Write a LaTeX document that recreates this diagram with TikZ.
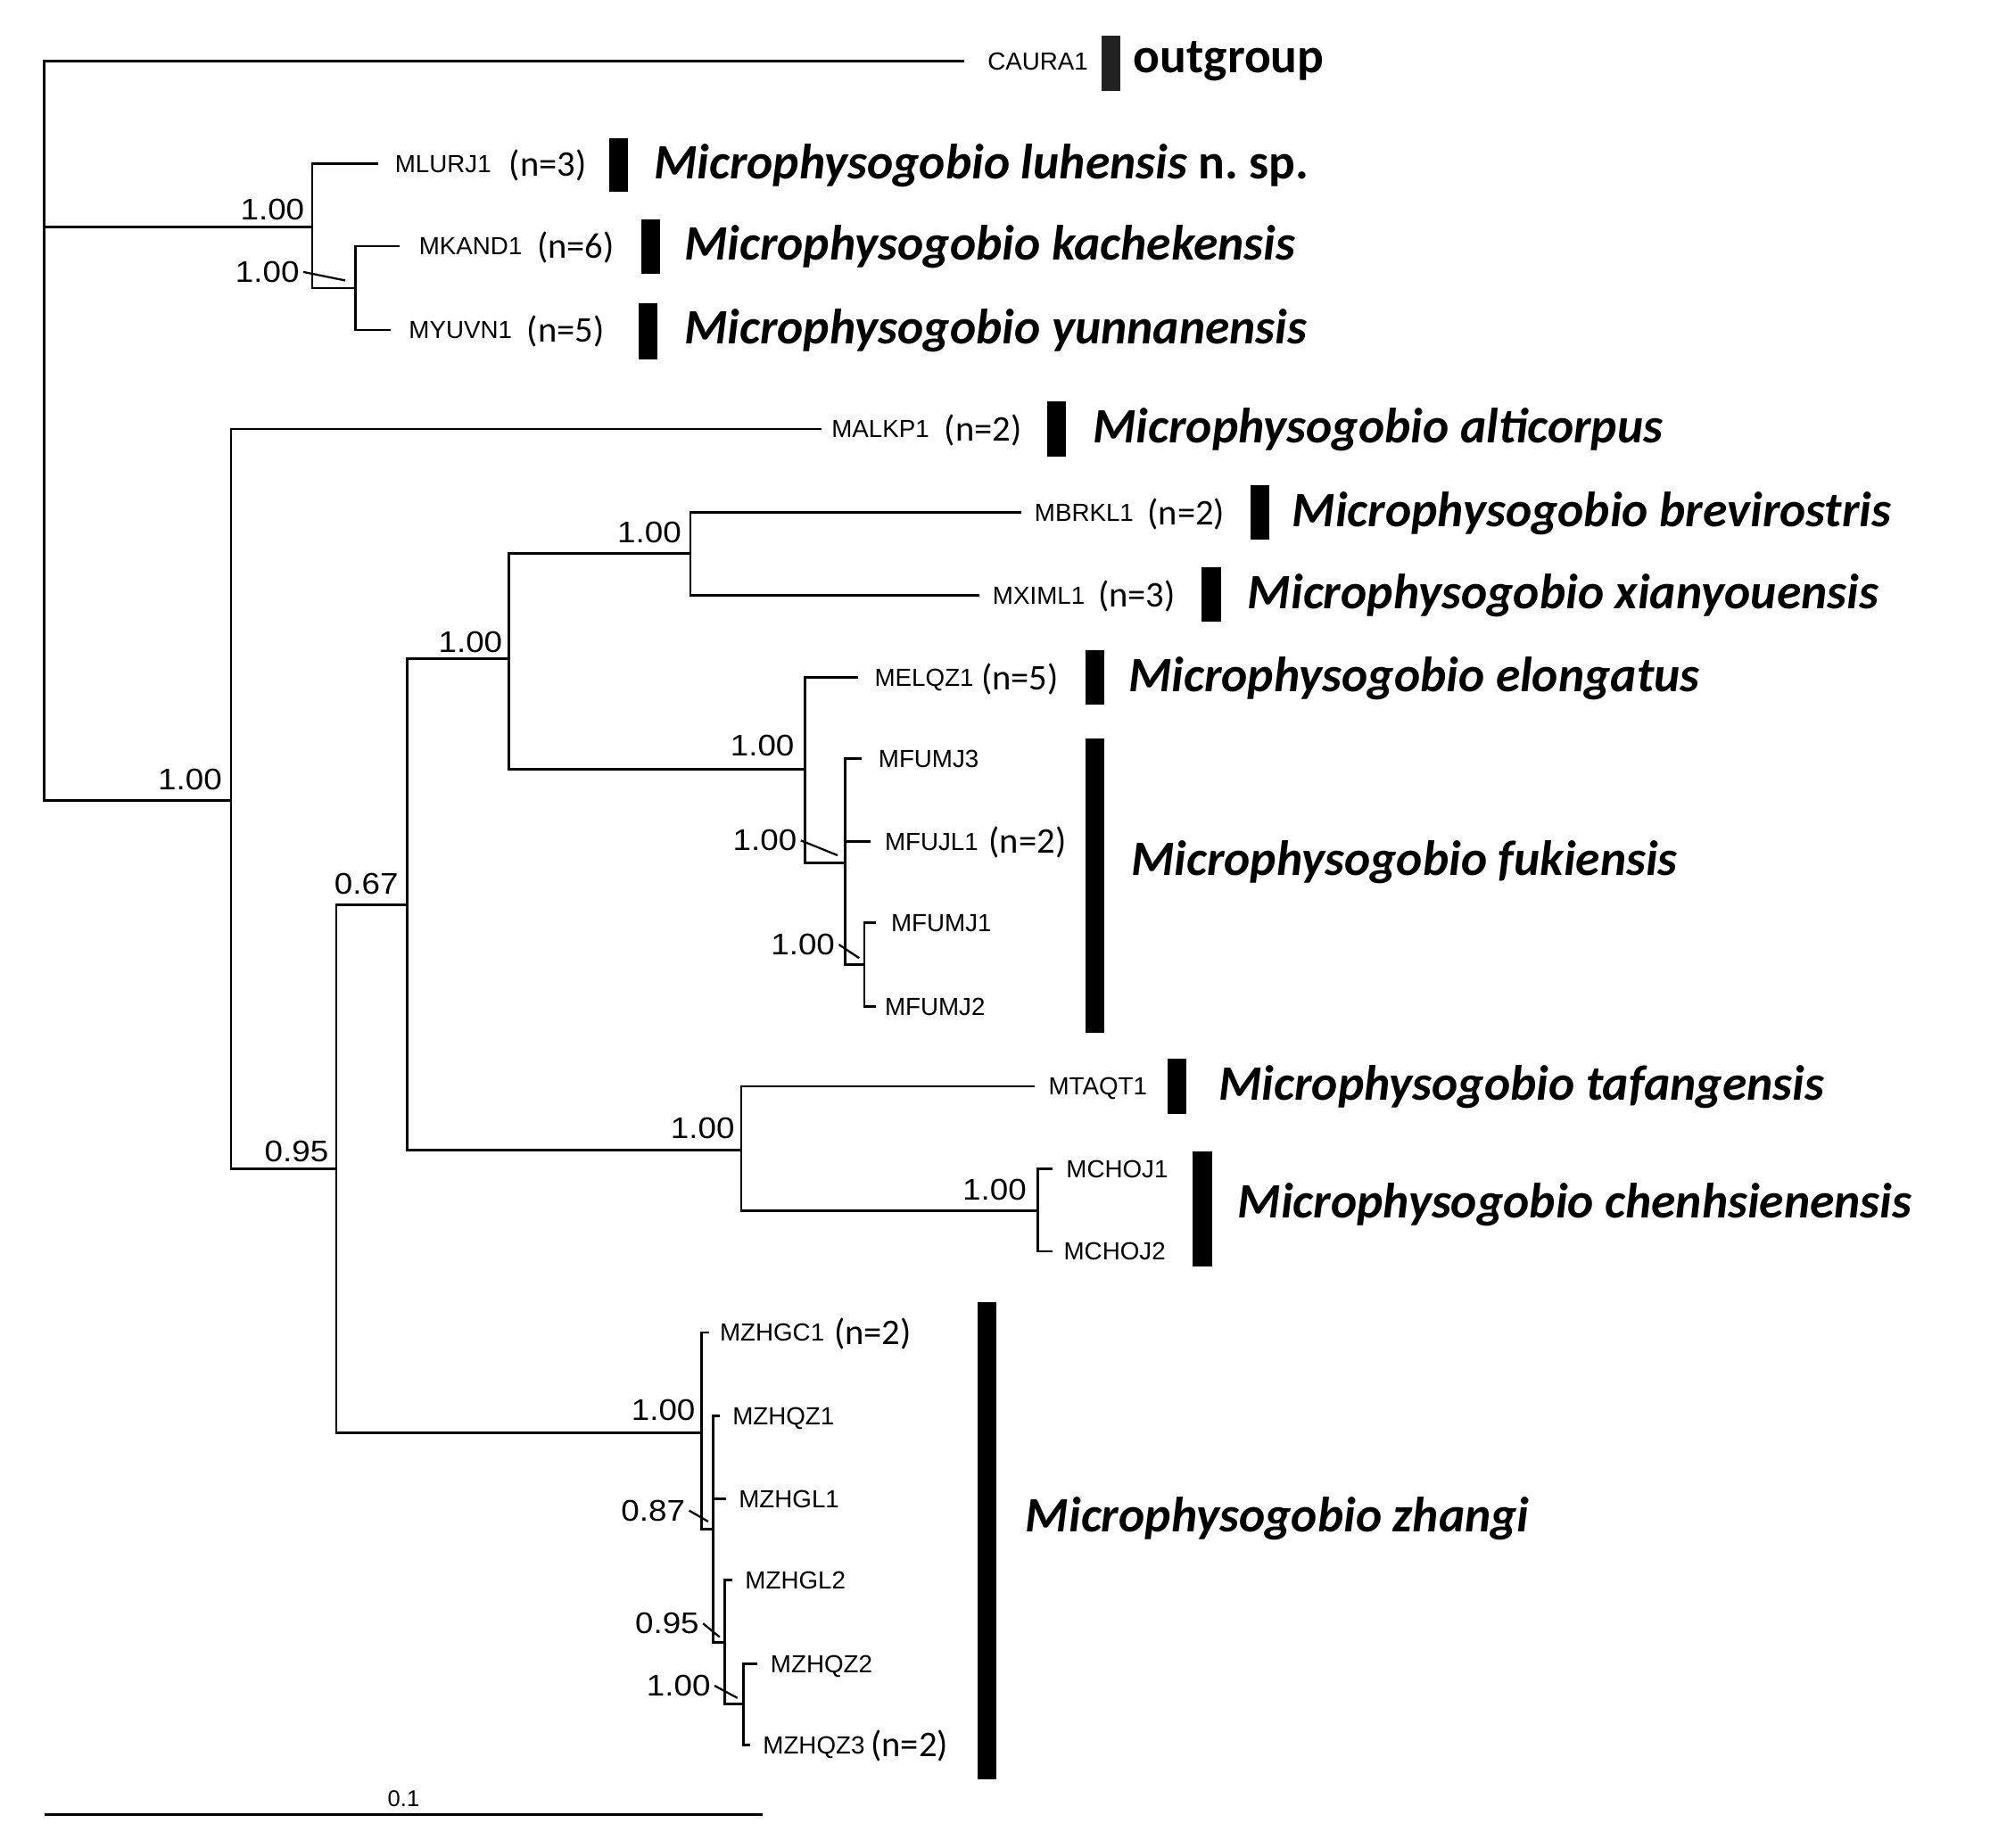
\documentclass[tikz,border=0pt]{standalone}
\usepackage{fontspec}
\usepackage{xcolor}
\usepackage{tikz}
\usetikzlibrary{positioning}
\setmainfont{Carlito}
\newfontfamily\tipfont{Liberation Sans}
\newfontfamily\supfont[FakeStretch=1.1]{Liberation Sans}
\definecolor{barOutgroup}{RGB}{34,34,34}

\begin{document}
\begin{tikzpicture}[x=1pt, y=-1pt,
    branch/.style={line width=2pt},
    leader/.style={line width=1.6pt},
    tiplabel/.style={anchor=base west, inner sep=0pt, font=\tipfont\fontsize{19.5}{21}\selectfont},
    ncount/.style={anchor=base west, inner sep=0pt, font=\fontsize{28.5}{30}\selectfont},
    support/.style={anchor=base east, inner sep=0pt, font=\supfont\fontsize{23.5}{25}\selectfont},
    species/.style={anchor=base west, inner sep=0pt, font=\fontsize{39}{42}\selectfont\bfseries\itshape}]
    \useasboundingbox (0,0) rectangle (1568,1456);
    \foreach \nd/\x/\y in {root/35/340, A/246/179, A2/280/227, B/182/631, C/265/921,
        D/321/713, E/401/519, F/544/436, G/634/606, H/666/680, I/681/760,
        J/584/906, K/818/954, L/553/1129, M/562/1205, N/571/1294, O/586/1343}
        \coordinate (\nd) at (\x,\y);
    \foreach \p/\c in {root/A, root/B, A/A2, B/C, C/D, C/L, D/E, D/J, E/F, E/G,
        G/H, H/I, J/K, L/M, M/N, N/O}
        \draw[branch] (\p) |- (\c);
    \foreach \p/\t/\xe/\y/\xl in {
        root/CAURA1/760/48/778, A/MLURJ1/298/129/311, A2/MKAND1/315/194/330,
        A2/MYUVN1/308/260/322, B/MALKP1/647/338/655, F/MBRKL1/805/404/815,
        F/MXIML1/772/469/782, G/MELQZ1/676/534/689, H/MFUMJ3/679/598/692,
        H/MFUJL1/686/663/697, I/MFUMJ1/690/727/702, I/MFUMJ2/690/793/697,
        J/MTAQT1/815/856/826, K/MCHOJ1/829/921/840, K/MCHOJ2/829/986/838,
        L/MZHGC1/559/1050/567, M/MZHQZ1/567/1116/577, M/MZHGL1/572/1181/582,
        N/MZHGL2/577/1245/587, O/MZHQZ2/597/1311/607, O/MZHQZ3/591/1375/601} {
        \coordinate (e\t) at (\xe,\y);
        \draw[branch] (\p) |- (e\t);
        \node[tiplabel] (\t) at (\xl,\y+7) {\t};
    }
    \foreach \t/\x/\y/\k in {MLURJ1/401/129/3, MKAND1/423/194/6, MYUVN1/415/260/5,
        MALKP1/744/338/2, MBRKL1/904/404/2, MXIML1/865/469/3, MELQZ1/773/534/5,
        MFUJL1/779/663/2, MZHGC1/657/1050/2, MZHQZ3/686/1375/2}
        \node[ncount] (n\t) at (\x,\y+9.5) {(n=\k)};
    \foreach \nd/\x/\y/\v in {A/240/165/1.00, A2/236/214/1.00, B/175/614/1.00,
        C/259/907/0.95, D/314/696/0.67, E/396/506/1.00, F/537/419/1.00,
        G/626/587/1.00, H/628/662/1.00, I/658/744/1.00, J/579/889/1.00,
        K/809/937/1.00, L/548/1111/1.00, M/540/1190/0.87, N/551/1279/0.95,
        O/560/1328/1.00}
        \node[support] (s\nd) at (\x,\y+8.4) {\v};
    \foreach \nd/\x/\y in {A2/272/221, H/660/674, I/677/755, M/558/1199,
        N/567/1290, O/581/1338} {
        \coordinate (k\nd) at (\x,\y);
        \draw[leader] ([xshift=3pt]s\nd.east) -- (k\nd);
    }
    \fill[barOutgroup] (868,28) rectangle (883,71.5);
    \foreach \x/\ya/\yb in {480/109/151, 505/173/216, 503/239/283, 825/316/360,
        985/382/425, 947/447/490, 855/512/555, 855/582/814, 920/834/878,
        940/907/998, 770/1026/1402}
        \fill (\x,\ya) rectangle (\x+15,\yb);
    \node[species] (outgroup) at (893,57.5) {\upshape outgroup};
    \node[species] (luhensis) at (515,141) {Microphysogobio luhensis {\upshape n.\ sp.}};
    \foreach \s/\x/\y in {kachekensis/539/194, yunnanensis/539/260, alticorpus/861/338,
        brevirostris/1018/404, xianyouensis/983/469, elongatus/889/534,
        fukiensis/891/679, tafangensis/960/856, chenhsienensis/975/949, zhangi/808/1196}
        \node[species] (\s) at (\x,\y+11) {Microphysogobio \s};
    \coordinate (sbL) at (35,1430);
    \coordinate (sbR) at (601,1430);
    \draw[branch] (sbL) -- (sbR) node[midway, above=5pt, inner sep=0pt,
        font=\tipfont\fontsize{18}{20}\selectfont] (sbText) {0.1};
\end{tikzpicture}
\end{document}
